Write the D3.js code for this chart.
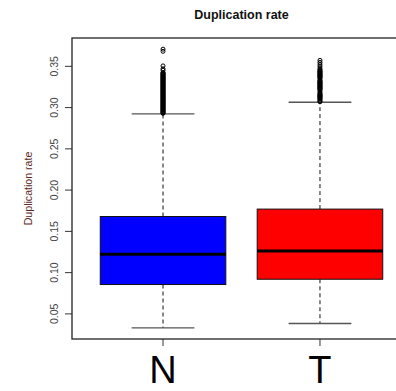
<!DOCTYPE html>
<html>
<head>
<meta charset="utf-8">
<script src="https://cdn.jsdelivr.net/npm/d3@7"></script>
<style>
  html, body { margin: 0; padding: 0; background: #fff; overflow: hidden; }
  svg { display: block; }
  text { font-family: "Liberation Sans", Arial, sans-serif; }
</style>
</head>
<body>
<svg id="chart" width="396" height="391"></svg>
<script>
// Groups and their box statistics
const groups = ["N", "T"];
const fills = ["#0000ff", "#ff0000"];
const lowerWhisker = [0.0331, 0.0384];
const q1 = [0.0856, 0.0920];
const median = [0.1222, 0.1263];
const q3 = [0.1680, 0.1770];
const upperWhisker = [0.2924, 0.3064];

// Points beyond the upper whisker
const outliersN = [0.3708, 0.3682, 0.3505, 0.3470, 0.3452,
  0.3425, 0.3418, 0.3410, 0.3402, 0.3395, 0.3387, 0.3380, 0.3372, 0.3365, 0.3357,
  0.3350, 0.3342, 0.3335, 0.3327, 0.3320, 0.3312, 0.3305, 0.3297, 0.3290, 0.3282,
  0.3275, 0.3267, 0.3260, 0.3252, 0.3245, 0.3237, 0.3230, 0.3222, 0.3215, 0.3207,
  0.3200, 0.3192, 0.3185, 0.3177, 0.3170, 0.3162, 0.3155, 0.3147, 0.3140, 0.3132,
  0.3125, 0.3117, 0.3110, 0.3102, 0.3095, 0.3087, 0.3080, 0.3072, 0.3065, 0.3057,
  0.3050, 0.3042, 0.3035, 0.3027, 0.3020, 0.3012, 0.3005, 0.2997, 0.2990, 0.2982,
  0.2975, 0.2967, 0.2960, 0.2952, 0.2945, 0.2937, 0.2930];
const outliersT = [0.3572, 0.3548, 0.3525, 0.3502, 0.3480, 0.3462, 0.3450, 0.3440,
  0.3432, 0.3424, 0.3416, 0.3408, 0.3400, 0.3392, 0.3384, 0.3376, 0.3368, 0.3360,
  0.3345, 0.3328, 0.3320, 0.3312, 0.3304, 0.3296, 0.3288, 0.3280, 0.3272, 0.3264,
  0.3256, 0.3248, 0.3240, 0.3232, 0.3224, 0.3216, 0.3200, 0.3182, 0.3168, 0.3160,
  0.3152, 0.3144, 0.3136, 0.3128, 0.3120, 0.3112, 0.3104, 0.3090, 0.3078, 0.3070];
const outliers = [outliersN, outliersT];

const yTicks = [0.05, 0.10, 0.15, 0.20, 0.25, 0.30, 0.35];

const svg = d3.select("#chart");
const plot = { left: 72, right: 411, top: 38, bottom: 339 };

// Data range padded by 4% on each side
const allVals = lowerWhisker.concat(upperWhisker, outliersN, outliersT);
const lo = d3.min(allVals), hi = d3.max(allVals);
const pad = (hi - lo) * 0.04;
const y = d3.scaleLinear().domain([lo - pad, hi + pad]).range([plot.bottom, plot.top]);
// Group positions 1..n on a 0.5..n+0.5 range, padded by 4%
const xr = [0.5, groups.length + 0.5];
const xpad = (xr[1] - xr[0]) * 0.04;
const x = d3.scaleLinear().domain([xr[0] - xpad, xr[1] + xpad]).range([plot.left, plot.right]);
const boxHalf = 0.4, capHalf = 0.2;

// Title
svg.append("text")
  .attr("x", (plot.left + plot.right) / 2).attr("y", 19)
  .attr("text-anchor", "middle")
  .attr("font-size", 12.5).attr("font-weight", "bold").attr("fill", "#111")
  .text("Duplication rate");

// Y axis title
svg.append("text")
  .attr("transform", `translate(31.5,${(plot.top + plot.bottom) / 2}) rotate(-90)`)
  .attr("text-anchor", "middle")
  .attr("font-size", 10.6).attr("fill", "#5a2a22")
  .text("Duplication rate");

// Y axis ticks and labels
const yAxis = svg.append("g");
yAxis.selectAll("line").data(yTicks).join("line")
  .attr("x1", plot.left - 7).attr("x2", plot.left)
  .attr("y1", d => y(d)).attr("y2", d => y(d))
  .attr("stroke", "#333").attr("stroke-width", 1);
yAxis.selectAll("text").data(yTicks).join("text")
  .attr("transform", d => `translate(57.5,${y(d)}) rotate(-90)`)
  .attr("text-anchor", "middle")
  .attr("font-size", 10.5).attr("fill", "#444")
  .text(d => d3.format(".2f")(d));

// Boxes
groups.forEach((g, i) => {
  const cx = x(i + 1);
  const gg = svg.append("g");
  // dashed whiskers
  gg.append("line")
    .attr("x1", cx).attr("x2", cx)
    .attr("y1", y(q3[i])).attr("y2", y(upperWhisker[i]))
    .attr("stroke", "#111").attr("stroke-width", 1).attr("stroke-dasharray", "4,3");
  gg.append("line")
    .attr("x1", cx).attr("x2", cx)
    .attr("y1", y(q1[i])).attr("y2", y(lowerWhisker[i]))
    .attr("stroke", "#111").attr("stroke-width", 1).attr("stroke-dasharray", "4,3");
  // whisker caps
  [lowerWhisker[i], upperWhisker[i]].forEach(v => {
    gg.append("line")
      .attr("x1", x(i + 1 - capHalf)).attr("x2", x(i + 1 + capHalf))
      .attr("y1", y(v)).attr("y2", y(v))
      .attr("stroke", "#555").attr("stroke-width", 1.4);
  });
  // box
  gg.append("rect")
    .attr("x", x(i + 1 - boxHalf)).attr("width", x(i + 1 + boxHalf) - x(i + 1 - boxHalf))
    .attr("y", y(q3[i])).attr("height", y(q1[i]) - y(q3[i]))
    .attr("fill", fills[i]).attr("stroke", "#111").attr("stroke-width", 1);
  // median
  gg.append("line")
    .attr("x1", x(i + 1 - boxHalf)).attr("x2", x(i + 1 + boxHalf))
    .attr("y1", y(median[i])).attr("y2", y(median[i]))
    .attr("stroke", "#000").attr("stroke-width", 3);
  // outliers
  gg.selectAll("circle").data(outliers[i]).join("circle")
    .attr("cx", cx).attr("cy", d => y(d)).attr("r", 2)
    .attr("fill", "none").attr("stroke", "#000").attr("stroke-width", 1);
  // x tick and label
  gg.append("line")
    .attr("x1", cx).attr("x2", cx)
    .attr("y1", plot.bottom).attr("y2", plot.bottom + 7)
    .attr("stroke", "#333").attr("stroke-width", 1);
  gg.append("text")
    .attr("x", cx).attr("y", 383)
    .attr("text-anchor", "middle")
    .attr("font-size", 38).attr("fill", "#000")
    .text(g);
});

// Plot frame
svg.append("rect")
  .attr("x", plot.left).attr("y", plot.top)
  .attr("width", plot.right - plot.left).attr("height", plot.bottom - plot.top)
  .attr("fill", "none").attr("stroke", "#222").attr("stroke-width", 1.3);
</script>
</body>
</html>
